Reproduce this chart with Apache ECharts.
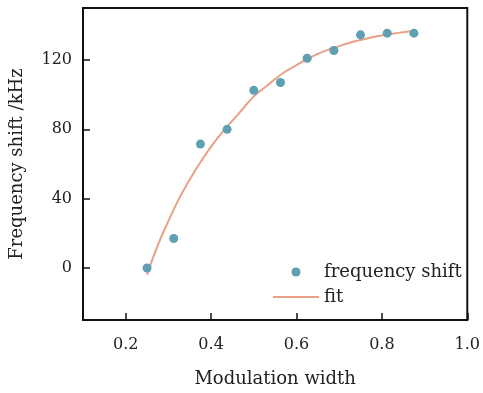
<!DOCTYPE html>
<html>
<head>
<meta charset="utf-8">
<style>
  html, body { margin: 0; padding: 0; background: #fff; }
  #chart { width: 483px; height: 393px; }
</style>
<script src="https://cdn.jsdelivr.net/npm/echarts@6/dist/echarts.min.js"></script>
</head>
<body>
<div id="chart"></div>
<script>
// measured points
const widthValues = [0.25, 0.3125, 0.375, 0.4375, 0.5, 0.5625, 0.625, 0.6875, 0.75, 0.8125, 0.875];
const shiftValues = [0, 17, 71.5, 80, 102.5, 107, 121, 125.5, 134.5, 135.5, 135.5];

// fitted curve
const fitX = [0.25, 0.275, 0.3, 0.325, 0.35, 0.375, 0.4, 0.425, 0.45, 0.475, 0.5, 0.525, 0.55,
  0.575, 0.6, 0.625, 0.65, 0.675, 0.7, 0.725, 0.75, 0.775, 0.8, 0.825, 0.85, 0.875];
const fitY = [-4, 13, 27, 40, 51, 61, 70, 78, 85, 92, 99, 104, 109,
  113.5, 117, 120.5, 123.5, 126, 128, 130, 131.5, 133, 134.2, 135.2, 136, 136.7];

const xTicks = [0.2, 0.4, 0.6, 0.8, 1.0];
const yTicks = [0, 40, 80, 120];

const font = 'DejaVu Serif';
const chart = echarts.init(document.getElementById('chart'));

chart.setOption({
  animation: false,
  grid: {
    left: 83, right: 12, top: 8, bottom: 73,
    show: true, borderColor: '#111', borderWidth: 2
  },
  legend: {
    orient: 'vertical',
    left: 267, top: 258,
    itemWidth: 46, itemHeight: 9,
    itemGap: 7,
    textStyle: { fontFamily: font, fontSize: 18, color: '#222', lineHeight: 18 },
    data: [
      { name: 'frequency shift', icon: 'circle' },
      { name: 'fit', itemStyle: { opacity: 0 } }
    ]
  },
  xAxis: {
    type: 'value',
    min: 0.1, max: 1.0,
    name: 'Modulation width',
    nameLocation: 'middle',
    nameGap: 50,
    nameTextStyle: { fontFamily: font, fontSize: 18, color: '#222' },
    axisLine: { onZero: false, lineStyle: { color: '#111', width: 2 } },
    axisTick: { inside: true, length: 7, customValues: xTicks, lineStyle: { color: '#111', width: 1.5 } },
    axisLabel: {
      customValues: xTicks, margin: 17,
      fontFamily: font, fontSize: 16, color: '#222',
      formatter: v => v.toFixed(1)
    },
    splitLine: { show: false }
  },
  yAxis: {
    type: 'value',
    min: -30, max: 150,
    name: 'Frequency shift /kHz',
    nameLocation: 'middle',
    nameGap: 57,
    nameTextStyle: { fontFamily: font, fontSize: 18, color: '#222' },
    axisLine: { show: true, onZero: false, lineStyle: { color: '#111', width: 2 } },
    axisTick: { show: true, inside: true, length: 7, customValues: yTicks, lineStyle: { color: '#111', width: 1.5 } },
    axisLabel: {
      customValues: yTicks, margin: 11,
      fontFamily: font, fontSize: 16, color: '#222'
    },
    splitLine: { show: false }
  },
  series: [
    {
      name: 'fit',
      type: 'line',
      smooth: true,
      symbol: 'none',
      data: fitX.map((x, i) => [x, fitY[i]]),
      lineStyle: { color: '#e9a086', width: 2 },
      itemStyle: { color: '#e9a086' },
      z: 2
    },
    {
      name: 'frequency shift',
      type: 'scatter',
      symbolSize: 9,
      data: widthValues.map((x, i) => [x, shiftValues[i]]),
      itemStyle: { color: '#5e9fb2', opacity: 1 },
      z: 3
    }
  ]
});
</script>
</body>
</html>
